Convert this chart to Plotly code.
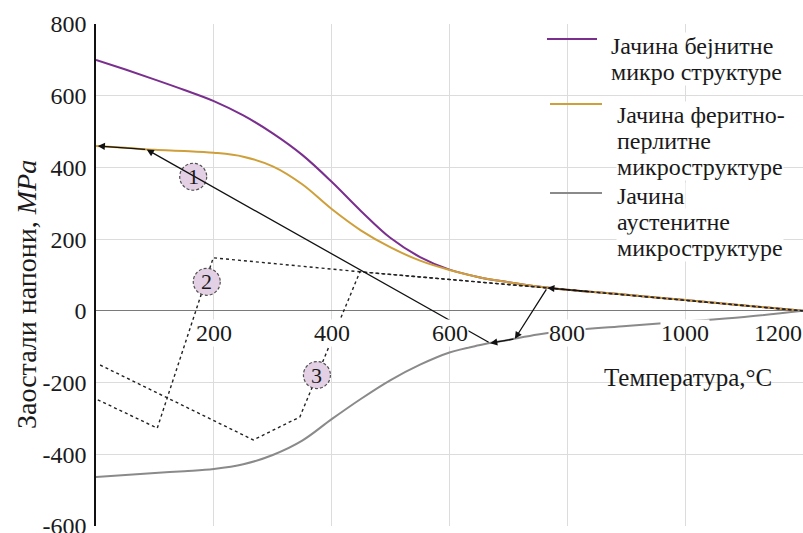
import plotly.graph_objects as go

SERIF = "Liberation Serif"
PURPLE = "#7a2f8f"
GOLD = "#cf9f3a"
GREY = "#8a8a8a"

# Temperature grid (°C) shared by the three strength curves
temp = [0, 50, 100, 150, 200, 250, 300, 350, 400, 450, 500, 550, 600, 650, 700,
        750, 800, 900, 1000, 1100, 1200]
# Strength of each microstructure (MPa)
bainite = [700, 673, 645, 616, 585, 545, 495, 435, 360, 278, 203, 150, 115, 94, 80,
           68, 59, 45, 30, 15, 0]
ferrite = [460, 455, 449, 446, 441, 430, 403, 353, 284, 224, 177, 140, 114, 94, 80,
           68, 59, 45, 30, 15, 0]
austenite = [-463, -458, -452, -447, -441, -428, -402, -362, -302, -245, -193, -150,
             -116, -96, -81, -66, -55, -42, -30, -17, 0]

# Residual stress path 1 (solid, with arrows)
cycle1_temp = [840, 766, 711, 669, 86, 3]
cycle1_stress = [53, 64, -78, -90, 450, 460]

# Residual stress paths 2 and 3 (dotted)
cycle2_temp = [3, 104, 199, 448, 766, 850, 1000, 1100, 1200]
cycle2_stress = [-248, -327, 148, 109, 64, 52, 30, 15, 0]
cycle3_temp = [7, 267, 346, 448, 766, 850, 1000, 1100, 1200]
cycle3_stress = [-151, -360, -296, 109, 64, 52, 30, 15, 0]

# Numbered path labels
label_temp = [165, 188, 375]
label_stress = [374, 81, -179]
label_text = ["1", "2", "3"]

x_ticks = [200, 400, 600, 800, 1000, 1200]
x_tick_labels = ["200", "400", "600", "800", "1000", "1200"]
y_ticks = [-600, -400, -200, 0, 200, 400, 600, 800]
y_tick_labels = ["-600", "-400", "-200", "0", "200", "400", "600", "800"]

legend_lines = [
    ["Јачина бејнитне", "микро структуре"],
    ["Јачина феритно-", "перлитне", "микроструктуре"],
    ["Јачина", "аустенитне", "микроструктуре"],
]
legend_colors = [PURPLE, GOLD, GREY]

W, H = 803, 533
ML, MR, MT, MB = 96, 0, 24, 7


def px_x(p):
    return (p - ML) / (W - ML - MR)


def px_y(p):
    return (H - MB - p) / (H - MT - MB)


fig = go.Figure()

for s, c in [(bainite, PURPLE), (ferrite, GOLD), (austenite, GREY)]:
    fig.add_trace(go.Scatter(x=temp, y=s, mode="lines",
                             line=dict(color=c, width=2, shape="spline", smoothing=1),
                             showlegend=False, hoverinfo="skip"))

for t, s in [(cycle2_temp, cycle2_stress), (cycle3_temp, cycle3_stress)]:
    fig.add_trace(go.Scatter(x=t, y=s, mode="lines",
                             line=dict(color="#222222", width=1.4, dash="dot"),
                             showlegend=False, hoverinfo="skip"))

annotations = []
shapes = []

# arrows along path 1
for i in range(len(cycle1_temp) - 1):
    annotations.append(dict(
        x=cycle1_temp[i + 1], y=cycle1_stress[i + 1],
        ax=cycle1_temp[i], ay=cycle1_stress[i],
        xref="x", yref="y", axref="x", ayref="y",
        text="", showarrow=True, arrowhead=2, arrowsize=1.1,
        arrowwidth=1.3, arrowcolor="#111111", standoff=0))

# numbered circles marking the paths
R = 13.5
for t, s, lab in zip(label_temp, label_stress, label_text):
    shapes.append(dict(type="circle", xref="x", yref="y",
                       xsizemode="pixel", ysizemode="pixel",
                       xanchor=t, yanchor=s, x0=-R, x1=R, y0=-R, y1=R,
                       fillcolor="#e4d0e4",
                       line=dict(color="#505050", width=1.2, dash="3px,2px")))
    annotations.append(dict(
        x=t, y=s, xref="x", yref="y", text=lab, showarrow=False,
        xanchor="center", yanchor="middle",
        font=dict(family=SERIF, size=22, color="#1a1a1a")))

# x tick labels sit just under the zero line
for i, (t, lab) in enumerate(zip(x_ticks, x_tick_labels)):
    last = i == len(x_ticks) - 1
    annotations.append(dict(
        x=t, y=0, xref="x", yref="y", text=lab, showarrow=False,
        xanchor="right" if last else "center", yanchor="middle", yshift=-22,
        bgcolor="white", borderpad=0,
        font=dict(family=SERIF, size=24, color="#1a1a1a")))

annotations.append(dict(
    x=px_x(688), y=px_y(377), xref="paper", yref="paper",
    text="Температура,°C", showarrow=False, xanchor="center", yanchor="middle",
    font=dict(family=SERIF, size=25, color="#1a1a1a")))

annotations.append(dict(
    x=px_x(26), y=px_y(295), xref="paper", yref="paper",
    text="Заостали напони, <i>MPa</i>", showarrow=False, textangle=-90,
    xanchor="center", yanchor="middle",
    font=dict(family=SERIF, size=28, color="#1a1a1a")))

# legend
sample_y = [39, 104, 193]
sample_x = [(547, 597), (550, 602), (550, 602)]
text_x = [610, 616, 616]
first_line_y = [46, 115, 196]
line_step = 26
for k, lines in enumerate(legend_lines):
    shapes.append(dict(type="line", xref="paper", yref="paper",
                       x0=px_x(sample_x[k][0]), x1=px_x(sample_x[k][1]),
                       y0=px_y(sample_y[k]), y1=px_y(sample_y[k]),
                       line=dict(color=legend_colors[k], width=2)))
    for j, txt in enumerate(lines):
        annotations.append(dict(
            x=px_x(text_x[k]), y=px_y(first_line_y[k] + j * line_step),
            xref="paper", yref="paper", text=txt, showarrow=False,
            xanchor="left", yanchor="middle", bgcolor="white", borderpad=0,
            font=dict(family=SERIF, size=24, color="#1a1a1a")))

fig.update_layout(
    width=W, height=H,
    margin=dict(l=ML, r=MR, t=MT, b=MB, autoexpand=False),
    paper_bgcolor="white", plot_bgcolor="white",
    showlegend=False,
    annotations=annotations, shapes=shapes,
    xaxis=dict(range=[0, 1200], tickvals=x_ticks, showticklabels=False,
               showgrid=True, gridcolor="#dcdcdc", gridwidth=1,
               zeroline=False, showline=False, ticks=""),
    yaxis=dict(range=[-600, 800], tickvals=y_ticks, ticktext=y_tick_labels,
               tickfont=dict(family=SERIF, size=24, color="#1a1a1a"),
               ticklabeloverflow="allow",
               showgrid=True, gridcolor="#dcdcdc", gridwidth=1,
               zeroline=True, zerolinecolor="#7a7a7a", zerolinewidth=1.2,
               showline=True, linecolor="#111111", linewidth=1.5,
               ticks="", ticklabelstandoff=3),
)

fig.write_html("out.html")
